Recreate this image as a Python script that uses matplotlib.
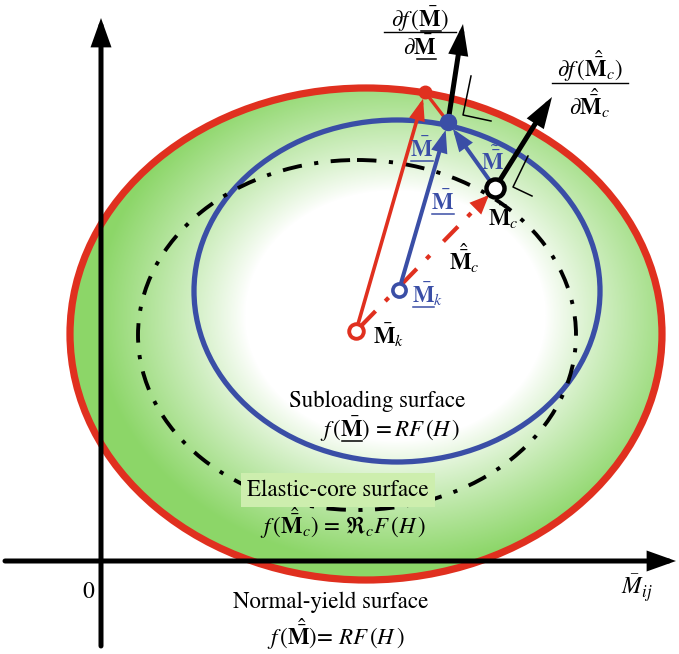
import numpy as np
import matplotlib.pyplot as plt
from matplotlib.patches import Ellipse, FancyArrowPatch

plt.rcParams["font.family"] = "STIXGeneral"
plt.rcParams["mathtext.fontset"] = "stix"
plt.rcParams["lines.scale_dashes"] = False

W, H = 679, 654

# surfaces (sketch pixel units): normal-yield, subloading, elastic-core
surface_cx = [366, 397, 357]
surface_cy = [334, 291, 335]
surface_w = [592, 406, 438]
surface_h = [492, 342, 350]

# points of the sketch
pt_mk_red = (356, 331)
pt_mk_blue = (399, 290)
pt_mc = (495, 188)
pt_yield = (425, 92)
pt_sub = (448, 122)
normal_tips = [(463, 24), (552, 97)]
mc_arrow_tip = (489, 195)
origin = (101, 561)
x_axis_end = (676, 561)
y_axis_end = (101, 18)
right_angle_1 = [(471, 76), (463, 115), (491, 121)]
right_angle_2 = [(528, 156), (513, 187), (532, 196)]

RED = "#e0301f"
BLUE = "#3a4ea6"
GREEN = np.array([0.55, 0.84, 0.41])

MBAR = r"\bar{\mathbf{M}}"
MBAR_HAT = r"\hat{\bar{\mathbf{M}}}"

fig = plt.figure(figsize=(W / 100, H / 100), dpi=100)
ax = fig.add_axes([0, 0, 1, 1])
ax.axis("off")

# green radial shading inside the normal-yield surface
yy, xx = np.mgrid[0:H, 0:W]
r = np.hypot((xx - 395) / 300, (yy - 315) / 250)
t = np.clip((r - 0.5) / 0.5, 0, 1) ** 0.9
img = 1 - t[..., None] * (1 - GREEN)
im = ax.imshow(img, extent=(0, W, H, 0), zorder=1, interpolation="bilinear")
clip = Ellipse((surface_cx[0], surface_cy[0]), surface_w[0], surface_h[0],
               facecolor="none", edgecolor="none", transform=ax.transData)
ax.add_patch(clip)
im.set_clip_path(clip)

# surfaces
ax.add_patch(Ellipse((surface_cx[0], surface_cy[0]), surface_w[0], surface_h[0],
                     facecolor="none", edgecolor=RED, lw=5.2, zorder=3))
ax.add_patch(Ellipse((surface_cx[1], surface_cy[1]), surface_w[1], surface_h[1],
                     facecolor="none", edgecolor=BLUE, lw=3.8, zorder=3))
ax.add_patch(Ellipse((surface_cx[2], surface_cy[2]), surface_w[2], surface_h[2],
                     facecolor="none", edgecolor="black", lw=2.8, zorder=3,
                     linestyle=(0, (14, 9, 3, 9))))


def arrow(p0, p1, color, lw, hl, hw, ms=20, sa=0, sb=0, z=5):
    a = FancyArrowPatch(p0, p1, arrowstyle=f"-|>,head_length={hl},head_width={hw}",
                        mutation_scale=ms, color=color, lw=lw,
                        shrinkA=sa, shrinkB=sb, zorder=z, joinstyle="miter")
    ax.add_patch(a)


# coordinate axes
arrow((5, origin[1]), x_axis_end, "black", 3.6, 0.7, 0.25, z=8)
arrow((origin[0], 646), y_axis_end, "black", 3.6, 0.7, 0.25, z=8)

# red dash-dot line from M_k towards M_c
ax.plot([pt_mk_red[0] + 5, mc_arrow_tip[0] - 12], [pt_mk_red[1] - 5, mc_arrow_tip[1] + 12],
        color=RED, lw=3, dashes=(15, 10, 3.5, 14), zorder=4)
arrow((mc_arrow_tip[0] - 10, mc_arrow_tip[1] + 10), mc_arrow_tip, RED, 2, 0.65, 0.28, ms=16, z=5)

# red vector to the normal-yield surface
arrow(pt_mk_red, pt_yield, RED, 2.6, 0.6, 0.22, ms=18, sa=5, sb=5)
ax.plot([pt_yield[0], pt_sub[0]], [pt_yield[1], pt_sub[1]], color=RED, lw=2.4, zorder=4)

# blue vectors to the subloading surface
arrow(pt_mk_blue, pt_sub, BLUE, 2.9, 0.6, 0.22, ms=18, sa=5, sb=6)
arrow(pt_mc, pt_sub, BLUE, 2.9, 0.6, 0.22, ms=18, sa=7, sb=6)

# outward normals
arrow(pt_sub, normal_tips[0], "black", 3.6, 0.75, 0.24, ms=20, z=6)
arrow(pt_mc, normal_tips[1], "black", 3.6, 0.75, 0.24, ms=20, z=6)
for pts in (right_angle_1, right_angle_2):
    xs, ys = zip(*pts)
    ax.plot(xs, ys, color="black", lw=1.1, zorder=6)

# points
ax.plot(*pt_mk_red, "o", ms=10.5, mfc="white", mec=RED, mew=2.8, zorder=9)
ax.plot(*pt_mk_blue, "o", ms=9.5, mfc="white", mec=BLUE, mew=2.6, zorder=9)
ax.plot(*pt_mc, "o", ms=13, mfc="white", mec="black", mew=3.2, zorder=9)
ax.plot(*pt_yield, "o", ms=9, color=RED, zorder=9)
ax.plot(*pt_sub, "o", ms=11.5, color=BLUE, zorder=9)

# labels
fs = 16.5
under = []  # (text, prefix, colour) for the underlined M's


def label(x, y, s, prefix=None, color="black", ha="left", size=fs, **kw):
    va = "baseline" if prefix is not None else "center"
    t = ax.text(x, y, s, fontsize=size, color=color, ha=ha, va=va, zorder=10, **kw)
    if prefix is not None:
        under.append((t, prefix, color, size))
    return t


label(88, 592, "0", ha="center", size=17)
label(637, 588, r"$\bar{M}_{ij}$", ha="center", size=17)

label(373, 335, rf"${MBAR}_k$")
label(412, 303, rf"${MBAR}_k$", prefix="", color=BLUE)
label(449, 258, rf"${MBAR_HAT}_c$")
label(488, 217, rf"${MBAR}_c$")
label(422, 157, rf"${MBAR}$", prefix="", color=BLUE, ha="center")
label(443, 210, rf"${MBAR}$", prefix="", color=BLUE, ha="center")
label(493, 160, r"$\tilde{\bar{\mathbf{M}}}$", color=BLUE, ha="center")

# normal fractions
label(420, 27, rf"$\partial f\,({MBAR})$", prefix=r"\partial f\,(", ha="center")
ax.plot([384, 456], [32, 32], color="black", lw=1.0)
label(420, 55, rf"$\partial{MBAR}$", prefix=r"\partial", ha="center")
label(590, 66, rf"$\partial f\,({MBAR_HAT}_c)$", ha="center")
ax.plot([552, 628], [83, 83], color="black", lw=1.0)
label(590, 103, rf"$\partial{MBAR_HAT}_c$", ha="center")

# surface names
label(377, 401, "Subloading surface", ha="center")
label(390, 437, rf"$f\,({MBAR})\,=RF\,(H\,)$", prefix=r"f\,(", ha="center")
label(338, 490, "Elastic-core surface", ha="center",
      bbox=dict(boxstyle="square,pad=0.28", facecolor="#cdeeae", edgecolor="none"))
label(343, 523, rf"$f\,({MBAR_HAT}_c)\,=\,\Re_c F\,(H\,)$", ha="center")
label(331, 602, "Normal-yield surface", ha="center")
label(336, 634, rf"$f\,({MBAR_HAT})\!=\,RF\,(H\,)$", ha="center")

ax.set_xlim(0, W)
ax.set_ylim(H, 0)
ax.set_aspect("auto")

# underline the M of the underlined symbols
renderer = fig.canvas.get_renderer()
inv = ax.transData.inverted()


def text_width(s, size):
    tmp = ax.text(0, 0, s, fontsize=size)
    w = tmp.get_window_extent(renderer).width
    tmp.remove()
    return w


for t, prefix, color, size in under:
    bb = t.get_window_extent(renderer)
    w0 = text_width(f"${prefix}$", size) if prefix else 0.0
    w1 = text_width(f"${prefix}{MBAR}$", size)
    x0 = inv.transform((bb.x0 + w0 + 1, 0))[0]
    x1 = inv.transform((bb.x0 + w1 - 1, 0))[0]
    y = t.get_position()[1] + 4
    ax.plot([x0, x1], [y, y], color=color, lw=1.1, zorder=10)

fig.savefig("out.png", dpi=100)
